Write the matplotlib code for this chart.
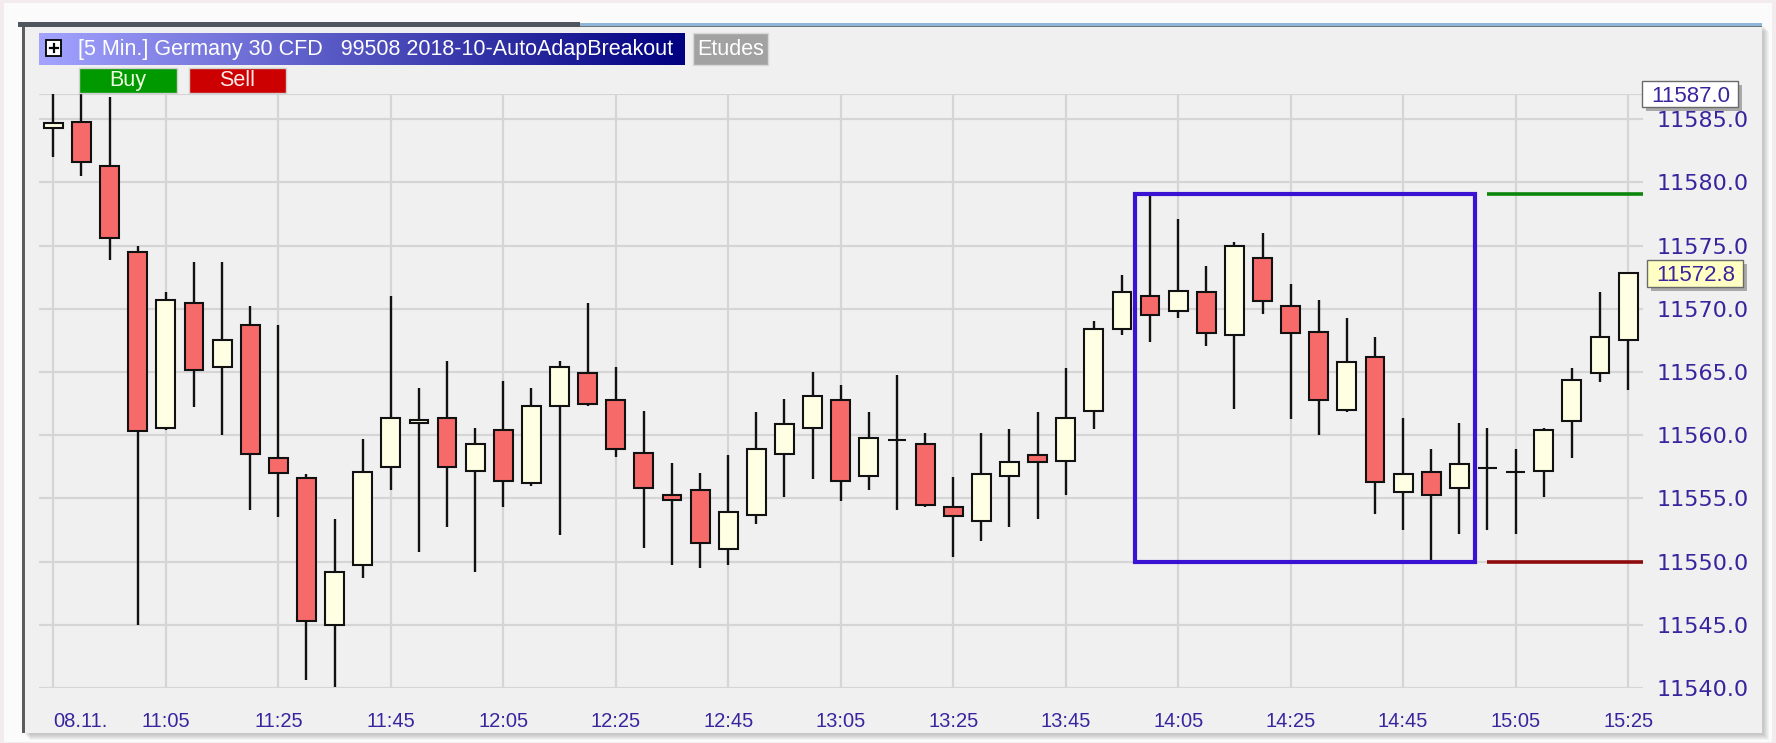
import matplotlib
matplotlib.use("Agg")
import matplotlib.pyplot as plt
from matplotlib.patches import Rectangle
from matplotlib.lines import Line2D
import matplotlib.colors as mcolors
import matplotlib.transforms as mtransforms
import numpy as np

plt.rcParams["font.family"] = ["Liberation Sans", "DejaVu Sans"]

# 5 min candles, Germany 30 CFD, 08.11. 10:45 .. 15:25
opens = [11584.3, 11584.8, 11581.3, 11574.5, 11560.6, 11570.5, 11565.4, 11568.7, 11558.2, 11556.6,
         11545.0, 11549.7, 11557.5, 11561.0, 11561.4, 11557.2, 11560.4, 11556.2, 11562.3, 11564.9,
         11562.8, 11558.6, 11555.3, 11555.7, 11551.0, 11553.7, 11558.5, 11560.6, 11562.8, 11556.8,
         11559.6, 11559.3, 11554.3, 11553.2, 11556.8, 11558.4, 11558.0, 11561.9, 11568.4, 11571.0,
         11569.8, 11571.3, 11567.9, 11574.0, 11570.2, 11568.2, 11562.0, 11566.2, 11555.5, 11557.1,
         11555.8, 11557.4, 11557.1, 11557.2, 11561.1, 11564.9, 11567.5]
highs = [11587.2, 11587.5, 11586.8, 11575.0, 11571.3, 11573.7, 11573.7, 11570.2, 11568.7, 11556.9,
         11553.4, 11559.7, 11571.0, 11563.7, 11565.9, 11560.6, 11564.3, 11563.7, 11565.9, 11570.5,
         11565.4, 11561.9, 11557.8, 11557.0, 11558.4, 11561.8, 11562.9, 11565.0, 11564.0, 11561.8,
         11564.8, 11560.2, 11556.7, 11560.2, 11560.5, 11561.8, 11565.3, 11569.0, 11572.7, 11579.1,
         11577.1, 11573.4, 11575.3, 11576.0, 11572.0, 11570.7, 11569.3, 11567.8, 11561.4, 11558.9,
         11561.0, 11560.6, 11558.9, 11560.6, 11565.3, 11571.3, 11572.9]
lows = [11582.0, 11580.5, 11573.9, 11545.0, 11560.4, 11562.2, 11560.0, 11554.1, 11553.5, 11540.6,
        11540.1, 11548.7, 11555.7, 11550.8, 11552.7, 11549.2, 11554.3, 11556.0, 11552.1, 11562.3,
        11558.3, 11551.1, 11549.7, 11549.5, 11549.7, 11553.0, 11555.1, 11556.5, 11554.8, 11555.7,
        11554.1, 11554.3, 11550.4, 11551.6, 11552.7, 11553.4, 11555.3, 11560.5, 11567.9, 11567.4,
        11569.3, 11567.1, 11562.1, 11569.6, 11561.3, 11560.0, 11561.8, 11553.8, 11552.5, 11550.0,
        11552.2, 11552.5, 11552.2, 11555.1, 11558.2, 11564.2, 11563.6]
closes = [11584.7, 11581.6, 11575.6, 11560.3, 11570.7, 11565.2, 11567.5, 11558.5, 11557.0, 11545.3,
          11549.2, 11557.1, 11561.4, 11561.2, 11557.5, 11559.3, 11556.4, 11562.3, 11565.4, 11562.5,
          11558.9, 11555.8, 11554.9, 11551.5, 11553.9, 11558.9, 11560.9, 11563.1, 11556.4, 11559.8,
          11559.6, 11554.5, 11553.6, 11556.9, 11557.9, 11557.9, 11561.4, 11568.4, 11571.3, 11569.5,
          11571.4, 11568.1, 11575.0, 11570.6, 11568.1, 11562.8, 11565.8, 11556.3, 11556.9, 11555.3,
          11557.7, 11557.4, 11557.1, 11560.4, 11564.4, 11567.8, 11572.8]

time_labels = ["08.11.", "11:05", "11:25", "11:45", "12:05", "12:25", "12:45", "13:05",
               "13:25", "13:45", "14:05", "14:25", "14:45", "15:05", "15:25"]
price_ticks = [11540, 11545, 11550, 11555, 11560, 11565, 11570, 11575, 11580, 11585]
range_first, range_last = 39, 50   # candles of the breakout range box
top_price = 11587.0

W, H = 1776, 743
fig = plt.figure(figsize=(W / 100, H / 100), dpi=100)
fig.patch.set_facecolor("#F3EBEE")


def px_rect(x0, y0, x1, y1, z=-10, **kw):
    r = Rectangle((x0 / W, 1 - y1 / H), (x1 - x0) / W, (y1 - y0) / H,
                  transform=fig.transFigure, zorder=z, **kw)
    fig.add_artist(r)
    return r


# window frame
px_rect(4, 3, 1772, 742, fc="#FBFBFB", ec="none", z=-12)
for i in range(6):
    px_rect(25 + i, 26 + i, 1764 + i, 735 + i, fc="black", ec="none", alpha=0.035, z=-11)
px_rect(23, 24, 1762, 733, fc="#F0F0F0", ec="none")
px_rect(22, 26, 24.5, 733, fc="#5C5C5C", ec="none", z=-9)
px_rect(18, 22.5, 580, 27, fc="#4F565D", ec="none", z=-9)
px_rect(580, 22.5, 1762, 25.5, fc="#8FB5D8", ec="none", z=-9)
px_rect(580, 25.5, 1762, 27, fc="#6E757C", ec="none", z=-9)

# chart
ax = fig.add_axes([39.3 / W, (H - 688) / H, (1643 - 39.3) / W, (688 - 94) / H])
ax.set_facecolor("#F0F0F0")
n = len(opens)
x = np.arange(n)
o = np.array(opens)
c = np.array(closes)
ax.set_xlim(-0.5, n - 0.47)
ax.set_ylim(price_ticks[0], top_price)

ax.set_yticks(price_ticks, [f"{p:.1f}" for p in price_ticks])
ax.set_xticks(x[::4], time_labels)
ax.yaxis.tick_right()
ax.grid(True, color="#D5D5D5", lw=1.6, zorder=0)
ax.axhline(top_price, color="#D5D5D5", lw=1.6, zorder=0)
for s in ax.spines.values():
    s.set_visible(False)
label_color = "#3A249E"
ax.tick_params(axis="y", length=0, pad=10, labelsize=16, labelcolor=label_color,
               labelfontfamily="DejaVu Sans")
ax.tick_params(axis="x", length=0, pad=17, labelsize=14.5, labelcolor=label_color)
ax.get_xticklabels()[0].set_ha("left")

body_colors = np.where(c >= o, "#FFFFE4", "#F66A6A")
ax.vlines(x, lows, highs, color="#111111", lw=1.7, zorder=2)
ax.bar(x, np.abs(c - o), bottom=np.minimum(o, c), width=0.67, color=body_colors,
       edgecolor="#111111", lw=1.5, zorder=3)

# breakout range
rng_hi = max(highs[range_first:range_last + 1])
rng_lo = min(lows[range_first:range_last + 1])
ax.add_patch(Rectangle((range_first - 0.55, rng_lo), range_last - range_first + 1.1, rng_hi - rng_lo,
                       fill=False, ec="#3A12D2", lw=3, zorder=4))
ax.hlines(rng_hi, range_last + 1, n - 0.47, color="#0B860B", lw=2.6, zorder=4)
ax.hlines(rng_lo, range_last + 1, n - 0.47, color="#8F0A0A", lw=2.6, zorder=4)

# price markers on the axis
blend = mtransforms.blended_transform_factory(ax.transAxes, ax.transData)
shift = mtransforms.ScaledTranslation(3 / 72, -3 / 72, fig.dpi_scale_trans)
for price, fc, x0 in [(top_price, "white", 0.9994), (closes[-1], "#FFFFC4", 1.0025)]:
    ax.add_patch(Rectangle((x0, price - 1.05), 0.060, 2.1, transform=blend + shift,
                           fc="#A9A9A9", ec="none", clip_on=False, zorder=5))
    ax.add_patch(Rectangle((x0, price - 1.05), 0.060, 2.1, transform=blend,
                           fc=fc, ec="#6A6A6A", lw=1, clip_on=False, zorder=6))
    ax.text(x0 + 0.0056, price, f"{price:.1f}", transform=blend, ha="left", va="center_baseline",
            fontsize=16, color=label_color, zorder=7, clip_on=False)

# header
hax = fig.add_axes([39 / W, 1 - 65 / H, (684 - 39) / W, (65 - 33) / H], zorder=5)
c0 = np.array(mcolors.to_rgb("#A3A3FF"))
c1 = np.array(mcolors.to_rgb("#000080"))
t = np.linspace(0, 1, 256)[None, :, None]
hax.imshow(c0 + (c1 - c0) * t, aspect="auto", extent=[0, 1, 0, 1])
hax.axis("off")
fig.text(78 / W, 1 - 49.5 / H, "[5 Min.] Germany 30 CFD   99508 2018-10-AutoAdapBreakout",
         color="white", fontsize=15.5, va="center", ha="left", zorder=6)
px_rect(46, 40, 61, 56, fc="white", ec="black", lw=1.3, z=6)
fig.add_artist(Line2D([49.5 / W, 57.5 / W], [1 - 48 / H, 1 - 48 / H], color="black", lw=1.6,
                      transform=fig.transFigure, zorder=7))
fig.add_artist(Line2D([53.5 / W, 53.5 / W], [1 - 44 / H, 1 - 52 / H], color="black", lw=1.6,
                      transform=fig.transFigure, zorder=7))

px_rect(693, 33, 768, 65, fc="#A2A2A2", ec="#D8D8D8", lw=1, z=5)
fig.text(730.5 / W, 1 - 49.5 / H, "Etudes", color="white", fontsize=15.5,
         va="center", ha="center", zorder=6)
px_rect(79, 68, 177, 93, fc="#009A00", ec="#D0D0D0", lw=1, z=5)
fig.text(128 / W, 1 - 80.5 / H, "Buy", color="#F0FFE0", fontsize=15.5,
         va="center", ha="center", zorder=6)
px_rect(189, 68, 286, 93, fc="#CC0000", ec="#D0D0D0", lw=1, z=5)
fig.text(237.5 / W, 1 - 80.5 / H, "Sell", color="#FFE8E8", fontsize=15.5,
         va="center", ha="center", zorder=6)

fig.savefig("out.png", dpi=100, facecolor=fig.get_facecolor())
